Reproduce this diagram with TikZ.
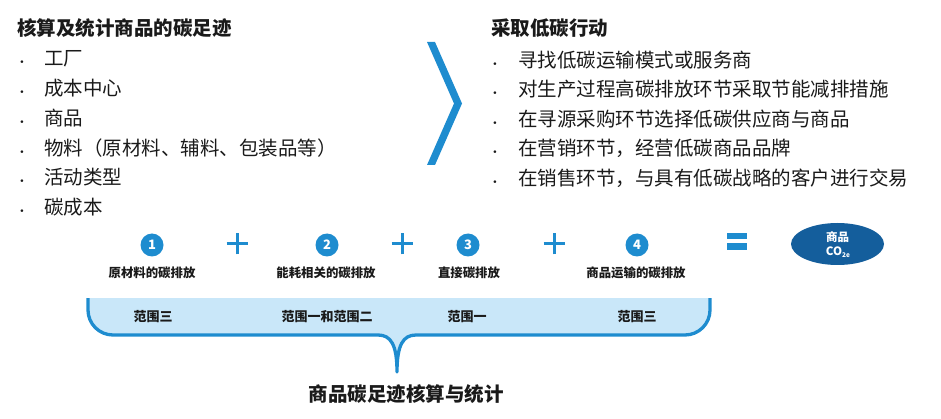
\documentclass[tikz,border=0pt]{standalone}
\usepackage{fontspec}
\setmainfont{Noto Sans CJK SC}
\newfontfamily\dvfont{DejaVu Sans}
\usetikzlibrary{shapes.geometric}
\definecolor{cblue}{HTML}{1E8CCF}
\definecolor{cdark}{HTML}{145E9C}
\definecolor{clight}{HTML}{C9E7F9}
\definecolor{ctext}{HTML}{1A1A1A}
\tikzset{
  heading/.style={anchor=west,inner sep=0pt,text=ctext,font=\fontsize{19.5}{20}\selectfont\bfseries},
  item/.style={anchor=west,inner sep=0pt,text=ctext,font=\fontsize{19.5}{20}\selectfont},
  bul/.style={anchor=base,inner sep=0pt,text=ctext,font=\dvfont\fontsize{9}{9}\selectfont},
  num/.style={circle,fill=cblue,text=white,minimum size=23pt,inner sep=0pt,font=\fontsize{13}{13}\selectfont\bfseries},
  lab/.style={inner sep=0pt,text=ctext,font=\fontsize{12.4}{13}\selectfont\bfseries},
  scope/.style={inner sep=0pt,text=ctext,font=\fontsize{13}{13}\selectfont\bfseries},
  plus/.style={draw=cblue,line width=3pt},
}
\begin{document}
\begin{tikzpicture}[x=1pt,y=-1pt]
\useasboundingbox (0,0) rectangle (941,419);
% left column
\node[heading] (lt) at (17,28) {核算及统计商品的碳足迹};
\foreach \t [count=\i] in {工厂,成本中心,商品,物料（原材料、辅料、包装品等）,活动类型,碳成本}{
  \node[item] (li\i) at (44,{28.5+29.8*\i}) {\t};
  \node[bul] (lb\i) at ([xshift=-22pt]li\i.base west) {•};
}
% chevron
\fill[cblue] (427,42) -- (435,42) -- (462,103.5) -- (435,165) -- (427,165) -- (454,103.5) -- cycle;
% right column
\node[heading] (rt) at (491,28) {采取低碳行动};
\foreach \t [count=\i] in {寻找低碳运输模式或服务商,对生产过程高碳排放环节采取节能减排措施,在寻源采购环节选择低碳供应商与商品,在营销环节，经营低碳商品品牌,在销售环节，与具有低碳战略的客户进行交易}{
  \node[item] (ri\i) at (518,{30+29.6*\i}) {\t};
  \node[bul] (rb\i) at ([xshift=-23pt]ri\i.base west) {•};
}
% formula row
\node[num] (n1) at (152,245) {1};
\node[num] (n2) at (327,245) {2};
\node[num] (n3) at (468,245) {3};
\node[num] (n4) at (637,245) {4};
\node[lab] (l1) at (152,273) {原材料的碳排放};
\node[lab] (l2) at (326,273) {能耗相关的碳排放};
\node[lab] (l3) at (469,273) {直接碳排放};
\node[lab] (l4) at (636,273) {商品运输的碳排放};
\foreach \x/\n in {237/p1,402/p2,554/p3}{
  \coordinate (\n) at (\x,244);
  \draw[plus] ([xshift=-10.5pt]\n) -- ([xshift=10.5pt]\n);
  \draw[plus] ([yshift=-10.5pt]\n) -- ([yshift=10.5pt]\n);
}
\fill[cblue] (727,233) rectangle (747,239.5);
\fill[cblue] (727,243.5) rectangle (747,250);
\node[ellipse,fill=cdark,minimum width=93pt,minimum height=42pt,inner sep=0pt] (co) at (837.5,244) {};
\node[inner sep=0pt,text=white,font=\fontsize{11.5}{11.5}\selectfont\bfseries] (co1) at (837.5,237) {商品};
\node[inner sep=0pt,text=white,font=\fontsize{11.5}{11.5}\selectfont\bfseries] (co2) at (838,252) {CO\raisebox{-2.5pt}{\fontsize{6.5}{6.5}\selectfont 2e}};
% callout
\fill[clight] (88,298) -- (88,310) arc[start angle=180,end angle=90,radius=25] -- (378,335)
  .. controls (391,335) and (397,345) .. (397,372)
  .. controls (397,345) and (403,335) .. (416,335)
  -- (685,335) arc[start angle=90,end angle=0,radius=25] -- (710,298) -- cycle;
\draw[cblue,line width=3.3pt,line join=round] (88,298) -- (88,310) arc[start angle=180,end angle=90,radius=25] -- (378,335)
  .. controls (391,335) and (397,345) .. (397,372)
  .. controls (397,345) and (403,335) .. (416,335)
  -- (685,335) arc[start angle=90,end angle=0,radius=25] -- (710,298);
\node[scope] (s1) at (153,317) {范围三};
\node[scope] (s2) at (327,317) {范围一和范围二};
\node[scope] (s3) at (467,317) {范围一};
\node[scope] (s4) at (637,317) {范围三};
\node[inner sep=0pt,text=ctext,font=\fontsize{19.5}{20}\selectfont\bfseries] (bt) at (406,394) {商品碳足迹核算与统计};
\end{tikzpicture}
\end{document}
